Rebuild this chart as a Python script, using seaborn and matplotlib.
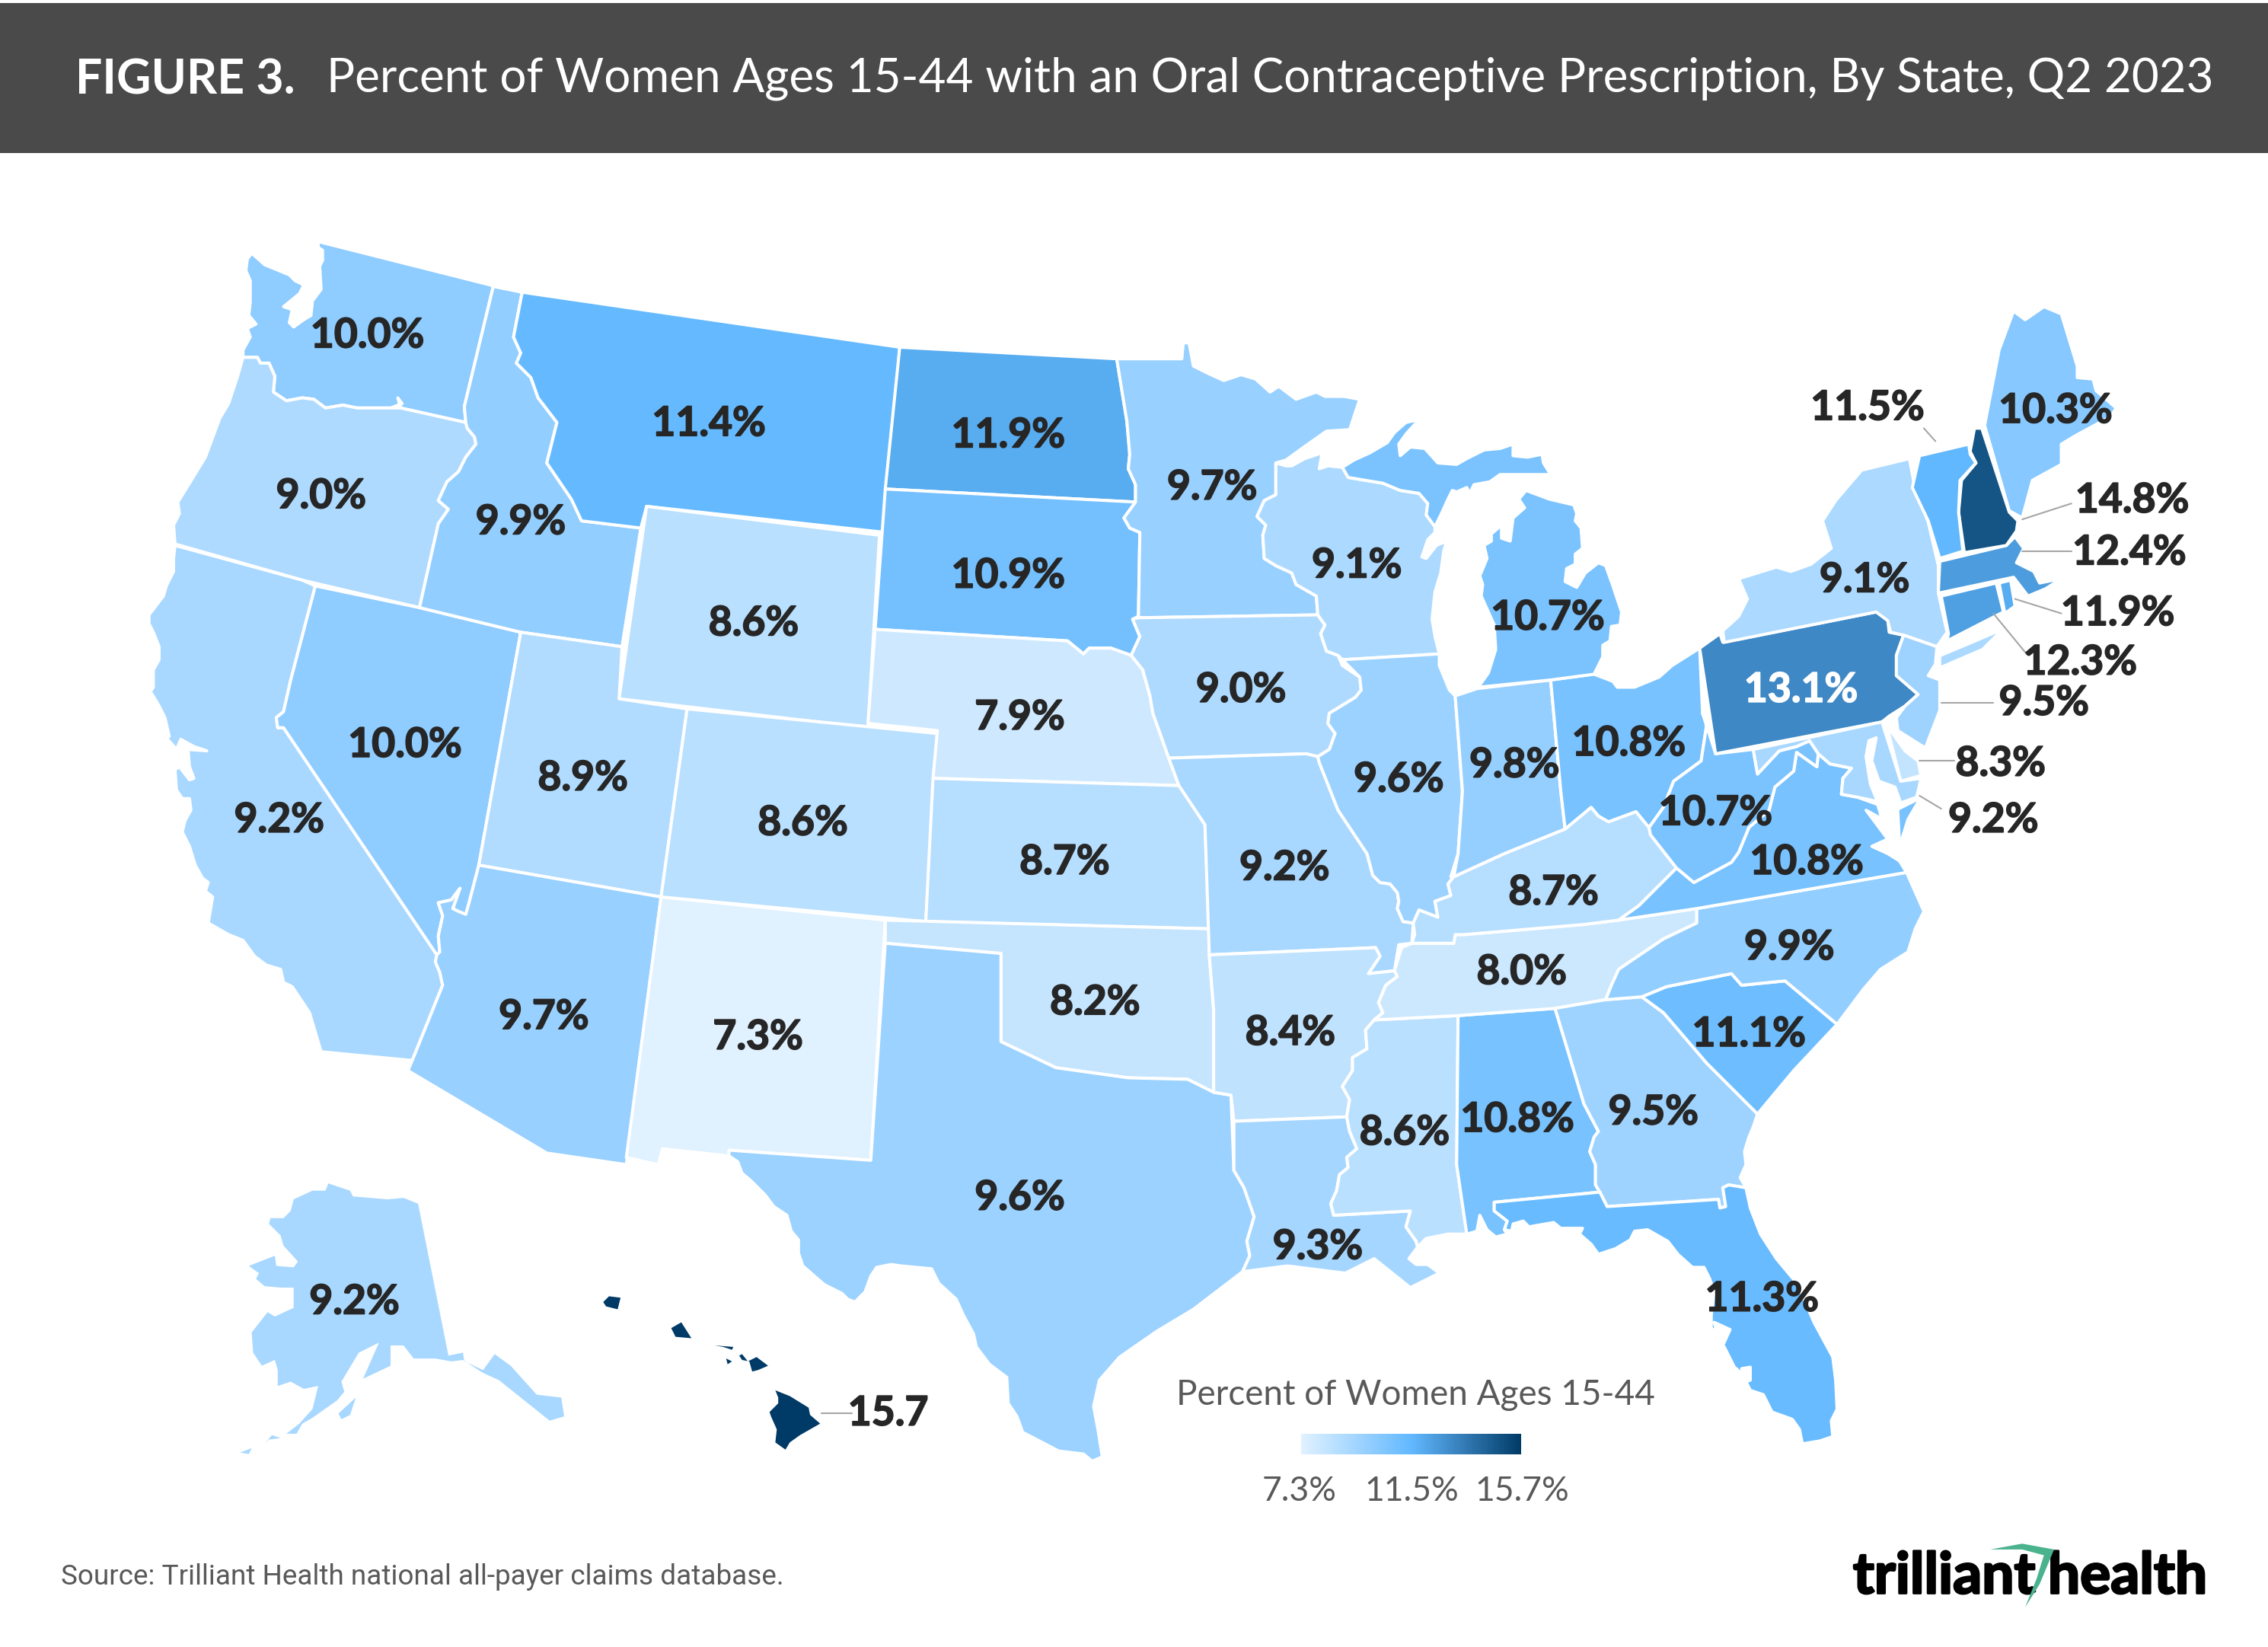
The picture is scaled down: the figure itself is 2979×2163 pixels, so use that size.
import numpy as np
import pandas as pd
import matplotlib.pyplot as plt
import matplotlib.patheffects as pe
import seaborn as sns
from matplotlib.colors import Normalize
from matplotlib.patches import Polygon, Rectangle

# =====================================================
# data
# =====================================================
states = ["WA", "OR", "CA", "NV", "ID", "MT", "WY", "UT", "AZ", "NM", "CO", "ND", "SD", "NE", "KS", "OK", "TX",
          "MN", "IA", "MO", "AR", "LA", "WI", "IL", "MS", "AL", "TN", "KY", "IN", "OH", "MI", "GA", "FL", "SC",
          "NC", "VA", "WV", "PA", "NY", "NJ", "DE", "MD", "CT", "RI", "MA", "NH", "VT", "ME", "AK", "HI"]
pct = [10.0, 9.0, 9.2, 10.0, 9.9, 11.4, 8.6, 8.9, 9.7, 7.3, 8.6, 11.9, 10.9, 7.9, 8.7, 8.2, 9.6,
       9.7, 9.0, 9.2, 8.4, 9.3, 9.1, 9.6, 8.6, 10.8, 8.0, 8.7, 9.8, 10.8, 10.7, 9.5, 11.3, 11.1,
       9.9, 10.8, 10.7, 13.1, 9.1, 9.5, 8.3, 9.2, 12.3, 11.9, 12.4, 14.8, 11.5, 10.3, 9.2, 15.7]

scale_ticks = [7.3, 11.5, 15.7]
scale_colors = ["#E0F1FF", "#62B8FF", "#003A66"]

# state outlines, in picture units (1568 wide)
shapes = {
    "WA": [[(174, 175), (183, 183), (200, 190), (204, 194), (210, 197), (207, 203), (196, 212), (202, 214), (200, 223),
            (203, 226), (210, 221), (215, 218), (216, 208), (222, 200), (221, 184), (223, 180), (223, 173), (220, 171),
            (220, 167), (339, 197), (341, 198), (321, 281), (322, 292), (277, 282), (275, 275), (278, 279), (270, 282),
            (247, 282), (237, 280), (225, 282), (217, 276), (209, 275), (198, 277), (189, 271), (190, 260), (186, 251),
            (180, 251), (178, 247), (168, 247), (168, 242), (173, 233), (171, 227), (177, 224), (172, 218), (173, 209),
            (173, 194), (170, 187), (171, 179)]],
    "OR": [[(168, 247), (178, 247), (180, 251), (186, 251), (190, 260), (189, 271), (198, 277), (209, 275), (217, 276),
            (225, 282), (237, 280), (247, 282), (270, 282), (277, 282), (322, 292), (323, 296), (328, 302), (329, 307),
            (322, 316), (317, 326), (309, 333), (303, 346), (310, 352), (303, 362), (290, 420), (209, 401), (121, 376),
            (120, 363), (124, 355), (123, 347), (131, 334), (142, 316), (152, 289), (158, 279), (164, 261)]],
    "CA": [[(121, 377), (209, 401), (218, 405), (201, 470), (196, 492), (191, 496), (192, 503), (196, 503), (302, 660),
            (301, 665), (304, 672), (306, 681), (285, 733), (222, 727), (214, 700), (202, 682), (196, 679), (194, 670),
            (184, 667), (176, 661), (168, 650), (158, 646), (144, 638), (147, 620), (142, 616), (144, 610), (140, 607),
            (135, 598), (131, 585), (126, 575), (128, 567), (132, 560), (131, 552), (126, 552), (122, 546), (121, 532),
            (124, 530), (131, 539), (134, 538), (131, 530), (130, 518), (143, 519), (134, 516), (125, 511), (122, 518),
            (115, 510), (117, 509), (114, 496), (110, 488), (104, 478), (106, 475), (106, 463), (110, 456), (110, 447),
            (106, 437), (103, 431), (103, 425), (113, 412), (115, 405), (120, 395), (120, 386)]],
    "NV": [[(218, 405), (290, 420), (360, 437), (331, 598), (324, 625), (322, 632), (317, 630), (313, 628), (318, 614),
            (312, 622), (303, 624), (306, 633), (303, 647), (304, 658), (302, 660), (196, 503), (192, 503), (191, 496),
            (196, 492), (201, 470)]],
    "ID": [[(341, 198), (361, 202), (355, 233), (360, 244), (357, 251), (367, 261), (372, 275), (385, 292), (378, 320),
            (395, 345), (402, 360), (443, 365), (430, 447), (360, 437), (290, 420), (303, 362), (310, 352), (303, 346),
            (309, 333), (317, 326), (322, 316), (329, 307), (328, 302), (323, 296), (322, 292), (321, 281)]],
    "MT": [[(361, 202), (622, 240), (612, 368), (447, 350), (443, 365), (402, 360), (395, 345), (378, 320), (385, 292),
            (372, 275), (367, 261), (357, 251), (360, 244), (355, 233)]],
    "WY": [[(447, 350), (608, 370), (600, 503), (428, 483)]],
    "UT": [[(360, 437), (430, 447), (428, 483), (475, 490), (457, 620), (331, 598)]],
    "AZ": [[(331, 598), (457, 620), (433, 805), (378, 797), (282, 740), (285, 733), (306, 681), (304, 672), (301, 665),
            (302, 660), (304, 658), (303, 647), (306, 633), (303, 624), (312, 622), (318, 614), (313, 628), (317, 630),
            (322, 632), (324, 625)]],
    "NM": [[(457, 620), (612, 636), (602, 802), (504, 795), (504, 799), (458, 794), (455, 805), (433, 800)]],
    "CO": [[(475, 490), (648, 507), (640, 637), (457, 620)]],
    "ND": [[(622, 240), (772, 248), (779, 291), (781, 314), (780, 324), (785, 335), (785, 347), (612, 338)]],
    "SD": [[(612, 338), (785, 347), (777, 358), (781, 365), (788, 368), (787, 426), (783, 428), (788, 440), (782, 453),
            (768, 448), (753, 448), (749, 452), (738, 443), (605, 435)]],
    "NE": [[(605, 435), (738, 443), (749, 452), (753, 448), (768, 448), (782, 453), (790, 463), (795, 481), (797, 493),
            (808, 524), (815, 543), (645, 538), (648, 505), (600, 500)]],
    "KS": [[(645, 538), (815, 543), (833, 570), (836, 642), (640, 637)]],
    "OK": [[(612, 636), (836, 642), (836, 660), (839, 698), (839, 755), (821, 746), (780, 745), (730, 738), (692, 720),
            (692, 659), (612, 652)]],
    "TX": [[(612, 652), (692, 659), (692, 720), (730, 738), (780, 745), (821, 746), (839, 755), (851, 757), (853, 809),
            (860, 821), (867, 841), (862, 858), (864, 868), (859, 879), (825, 905), (800, 920), (774, 938), (760, 954),
            (756, 972), (759, 988), (762, 1007), (755, 1010), (749, 1005), (732, 1003), (707, 990), (703, 979),
            (697, 970), (696, 952), (684, 943), (675, 931), (673, 922), (666, 909), (661, 898), (649, 887), (644, 877),
            (623, 875), (616, 874), (606, 876), (602, 882), (598, 893), (591, 900), (586, 898), (582, 894), (570, 888),
            (563, 882), (555, 875), (552, 866), (552, 857), (547, 851), (544, 840), (535, 834), (529, 826), (519, 816),
            (513, 811), (510, 803), (504, 799), (504, 795), (602, 802)]],
    "MN": [[(772, 248), (817, 248), (818, 237), (822, 237), (825, 253), (835, 258), (846, 263), (858, 259), (868, 262),
            (878, 271), (884, 267), (896, 276), (910, 271), (916, 274), (929, 274), (940, 276), (933, 297), (917, 298),
            (900, 310), (889, 318), (882, 320), (882, 342), (874, 346), (869, 357), (875, 363), (873, 370), (874, 386),
            (882, 391), (893, 396), (896, 404), (910, 412), (911, 425), (787, 427), (788, 368), (781, 365), (777, 358),
            (785, 347), (785, 335), (780, 324), (781, 314), (779, 291)]],
    "IA": [[(787, 427), (911, 425), (916, 432), (913, 438), (917, 450), (925, 453), (928, 460), (940, 468), (941, 477),
            (937, 482), (919, 493), (918, 500), (923, 507), (919, 518), (911, 523), (903, 521), (808, 524), (797, 493),
            (795, 481), (790, 463), (782, 453), (788, 440), (783, 428)]],
    "MO": [[(808, 524), (903, 521), (911, 523), (912, 527), (925, 560), (945, 590), (949, 605), (954, 610), (961, 611),
            (966, 617), (967, 623), (966, 628), (970, 637), (977, 638), (976, 652), (967, 653), (964, 671), (946, 673),
            (954, 661), (951, 655), (836, 660), (833, 570), (815, 543)]],
    "AR": [[(836, 660), (951, 655), (954, 661), (946, 673), (964, 671), (966, 675), (958, 681), (953, 693), (956, 700),
            (950, 705), (944, 712), (945, 725), (935, 731), (935, 740), (928, 751), (933, 760), (931, 772), (853, 775),
            (851, 757), (839, 755), (839, 698)]],
    "LA": [[(853, 775), (931, 772), (933, 782), (938, 794), (931, 800), (932, 807), (926, 812), (924, 823), (920, 832),
            (922, 840), (975, 837), (972, 848), (979, 858), (980, 862), (974, 870), (979, 874), (987, 874), (995, 880),
            (975, 890), (950, 870), (930, 880), (890, 875), (859, 879), (864, 868), (862, 858), (867, 841), (860, 821),
            (853, 809)]],
    "WI": [[(928, 323), (932, 330), (956, 334), (968, 339), (981, 341), (987, 348), (986, 356), (992, 364), (992, 368),
            (987, 373), (983, 385), (986, 386), (993, 377), (1000, 374), (998, 381), (996, 396), (992, 409), (990, 428),
            (992, 440), (995, 452), (928, 456), (925, 453), (917, 450), (913, 438), (916, 432), (911, 425), (910, 412),
            (896, 404), (893, 396), (882, 391), (874, 386), (873, 370), (875, 363), (869, 357), (874, 346), (882, 342),
            (882, 320), (889, 322), (893, 322), (902, 317), (914, 313), (912, 324), (918, 322)]],
    "IL": [[(928, 456), (995, 452), (995, 460), (1002, 477), (1006, 481), (1011, 547), (1008, 590), (1003, 606),
            (1005, 606), (1001, 611), (1003, 619), (992, 623), (994, 634), (981, 629), (977, 638), (970, 637), (966, 628),
            (967, 623), (966, 617), (961, 611), (954, 610), (949, 605), (945, 590), (925, 560), (912, 527), (911, 523),
            (919, 518), (923, 507), (918, 500), (919, 493), (937, 482), (941, 477), (940, 468)]],
    "IN": [[(1006, 481), (1021, 476), (1072, 470), (1079, 547), (1082, 573), (1040, 590), (1005, 606), (1008, 590),
            (1011, 547)]],
    "KY": [[(1005, 606), (1040, 590), (1082, 573), (1100, 558), (1105, 564), (1112, 568), (1131, 561), (1140, 572),
            (1141, 577), (1159, 600), (1133, 626), (1119, 636), (1095, 639), (1012, 646), (1006, 646), (1005, 652),
            (976, 652), (978, 646), (977, 638), (981, 629), (994, 634), (992, 623), (1003, 619), (1001, 611)]],
    "TN": [[(969, 655), (976, 652), (1005, 652), (1006, 646), (1012, 646), (1095, 639), (1119, 636), (1173, 628),
            (1173, 638), (1150, 649), (1119, 670), (1114, 681), (1110, 691), (1075, 697), (1008, 702), (950, 705),
            (956, 700), (953, 693), (958, 681), (966, 675), (964, 671)]],
    "MS": [[(950, 705), (1008, 702), (1007, 805), (1014, 853), (1001, 853), (986, 856), (980, 862), (979, 858), (972, 848),
            (975, 837), (922, 840), (920, 832), (924, 823), (926, 812), (932, 807), (931, 800), (938, 794), (933, 782),
            (931, 772), (933, 760), (928, 751), (935, 740), (935, 731), (945, 725), (944, 712)]],
    "AL": [[(1008, 702), (1075, 697), (1095, 763), (1105, 782), (1102, 786), (1099, 796), (1103, 805), (1103, 819),
            (1106, 824), (1033, 831), (1033, 837), (1042, 844), (1040, 850), (1042, 853), (1034, 855), (1028, 850),
            (1023, 840), (1021, 851), (1014, 853), (1007, 805)]],
    "GA": [[(1075, 697), (1110, 691), (1135, 689), (1150, 700), (1180, 735), (1215, 770), (1212, 779), (1209, 786),
            (1206, 796), (1207, 805), (1203, 814), (1207, 821), (1195, 819), (1191, 821), (1193, 834), (1189, 835),
            (1188, 829), (1111, 834), (1106, 824), (1103, 819), (1103, 805), (1099, 796), (1102, 786), (1105, 782),
            (1095, 763)]],
    "FL": [[(1033, 831), (1106, 824), (1111, 834), (1188, 829), (1189, 835), (1193, 834), (1191, 821), (1195, 819),
            (1207, 821), (1210, 835), (1217, 853), (1228, 870), (1243, 888), (1254, 914), (1267, 938), (1269, 954),
            (1270, 974), (1266, 982), (1267, 993), (1258, 996), (1246, 998), (1244, 988), (1239, 981), (1225, 976),
            (1219, 964), (1210, 961), (1207, 955), (1210, 954), (1210, 945), (1204, 946), (1206, 951), (1199, 945),
            (1192, 931), (1191, 930), (1196, 919), (1185, 914), (1187, 921), (1183, 918), (1183, 909), (1185, 893),
            (1182, 884), (1178, 876), (1170, 876), (1160, 867), (1153, 858), (1139, 850), (1130, 851), (1127, 857),
            (1117, 863), (1105, 867), (1100, 860), (1092, 853), (1094, 849), (1086, 849), (1079, 849), (1074, 845),
            (1057, 848), (1053, 844), (1046, 846), (1045, 851), (1040, 850), (1042, 844), (1033, 837)]],
    "SC": [[(1135, 689), (1152, 682), (1197, 673), (1204, 681), (1234, 678), (1270, 708), (1240, 740), (1215, 770),
            (1180, 735), (1150, 700)]],
    "NC": [[(1110, 691), (1114, 681), (1119, 670), (1150, 649), (1173, 638), (1173, 628), (1318, 603), (1330, 630),
            (1324, 642), (1319, 658), (1300, 670), (1288, 684), (1270, 708), (1234, 678), (1204, 681), (1197, 673),
            (1152, 682), (1135, 689)]],
    "VA": [[(1119, 636), (1133, 626), (1159, 600), (1171, 610), (1197, 596), (1202, 589), (1209, 572), (1223, 560),
            (1227, 544), (1240, 533), (1242, 520), (1256, 530), (1257, 521), (1265, 528), (1280, 531), (1274, 538),
            (1273, 549), (1284, 551), (1298, 556), (1301, 566), (1290, 560), (1305, 580), (1294, 585), (1305, 590),
            (1313, 595), (1318, 603), (1173, 628)],
           [(1325, 554), (1318, 566), (1314, 579), (1313, 560)]],
    "WV": [[(1177, 493), (1186, 521), (1212, 518), (1215, 535), (1230, 519), (1242, 516), (1251, 512), (1257, 521),
            (1256, 530), (1242, 520), (1240, 533), (1227, 544), (1223, 560), (1209, 572), (1202, 589), (1197, 596),
            (1171, 610), (1159, 600), (1141, 577), (1140, 572), (1150, 558), (1157, 540), (1176, 526), (1180, 500)]],
    "OH": [[(1072, 470), (1102, 466), (1115, 471), (1118, 475), (1130, 475), (1147, 468), (1156, 460), (1175, 448),
            (1177, 493), (1180, 500), (1176, 526), (1157, 540), (1150, 558), (1140, 572), (1131, 561), (1112, 568),
            (1105, 564), (1100, 558), (1082, 573), (1079, 547)]],
    "MI": [[(1022, 475), (1029, 465), (1034, 449), (1033, 432), (1024, 412), (1025, 404), (1023, 398), (1028, 386),
            (1026, 377), (1031, 374), (1031, 369), (1038, 363), (1038, 372), (1044, 374), (1046, 358), (1054, 351),
            (1050, 345), (1055, 339), (1071, 345), (1088, 349), (1090, 355), (1089, 360), (1093, 365), (1094, 379),
            (1089, 383), (1089, 390), (1083, 393), (1082, 402), (1090, 406), (1096, 396), (1105, 389), (1110, 391),
            (1115, 405), (1121, 423), (1120, 432), (1114, 433), (1113, 443), (1108, 446), (1108, 454), (1102, 466),
            (1072, 470)],
           [(928, 323), (936, 318), (947, 313), (959, 306), (964, 299), (972, 292), (981, 290), (972, 300), (967, 307),
            (968, 315), (975, 309), (985, 310), (994, 320), (1007, 321), (1014, 317), (1026, 311), (1037, 310), (1046, 307),
            (1046, 315), (1056, 316), (1066, 314), (1067, 320), (1072, 328), (1055, 328), (1037, 328), (1030, 333),
            (1019, 335), (1016, 341), (1014, 337), (1007, 340), (1004, 339), (1001, 345), (996, 356), (992, 364),
            (986, 356), (987, 348), (981, 341), (968, 339), (956, 334), (932, 330)]],
    "PA": [[(1175, 448), (1189, 438), (1191, 444), (1297, 423), (1305, 428), (1306, 437), (1316, 439), (1311, 453),
            (1311, 467), (1326, 480), (1317, 488), (1306, 495), (1301, 499), (1186, 521)]],
    "NY": [[(1191, 436), (1202, 426), (1208, 414), (1202, 400), (1228, 392), (1238, 395), (1252, 390), (1266, 379),
            (1260, 360), (1269, 346), (1287, 325), (1320, 317), (1323, 333), (1333, 361), (1340, 391), (1340, 410),
            (1346, 437), (1339, 447), (1316, 439), (1307, 437), (1305, 429), (1297, 423), (1192, 444)],
           [(1342, 454), (1380, 438), (1370, 448), (1342, 460)]],
    "NJ": [[(1316, 439), (1339, 447), (1338, 459), (1333, 467), (1341, 470), (1341, 491), (1331, 517), (1312, 505),
            (1311, 496), (1317, 488), (1326, 480), (1311, 467), (1311, 453)]],
    "DE": [[(1304, 500), (1314, 540), (1328, 536), (1326, 526), (1317, 519), (1307, 505)]],
    "MD": [[(1212, 518), (1301, 499), (1314, 540), (1328, 538), (1325, 551), (1314, 555), (1310, 544), (1299, 540),
            (1294, 526), (1297, 510), (1292, 512), (1290, 523), (1293, 542), (1298, 554), (1284, 551), (1273, 549),
            (1274, 538), (1280, 531), (1265, 528), (1257, 521), (1251, 512), (1242, 516), (1230, 519), (1215, 535)]],
    "CT": [[(1342, 412), (1380, 403), (1385, 423), (1346, 443), (1347, 438)]],
    "RI": [[(1382, 403), (1390, 401), (1393, 419), (1386, 424)]],
    "MA": [[(1341, 388), (1387, 377), (1393, 371), (1399, 379), (1394, 389), (1406, 395), (1410, 403), (1425, 400),
            (1414, 407), (1402, 412), (1392, 399), (1340, 410)]],
    "NH": [[(1365, 296), (1370, 296), (1389, 354), (1395, 360), (1394, 367), (1387, 377), (1358, 382), (1354, 354),
            (1356, 332), (1366, 320), (1362, 312)]],
    "VT": [[(1327, 315), (1361, 307), (1362, 314), (1366, 320), (1355, 332), (1354, 354), (1357, 381), (1341, 386),
            (1333, 360), (1322, 337)]],
    "ME": [[(1372, 294), (1382, 242), (1392, 215), (1400, 221), (1413, 212), (1425, 217), (1436, 253), (1436, 261),
            (1447, 262), (1449, 270), (1463, 282), (1459, 288), (1435, 301), (1425, 307), (1425, 321), (1405, 332),
            (1398, 358), (1389, 353)]],
    "AK": [[(227, 818), (242, 823), (244, 827), (268, 829), (279, 828), (289, 832), (310, 937), (320, 935), (321, 941),
            (334, 947), (342, 936), (353, 944), (371, 964), (388, 966), (390, 979), (380, 982), (345, 954), (334, 949),
            (320, 940), (312, 941), (301, 939), (286, 939), (279, 930), (270, 930), (270, 944), (251, 953), (262, 928),
            (248, 935), (236, 955), (238, 962), (233, 968), (216, 980), (209, 984), (205, 991), (198, 991), (207, 984),
            (216, 974), (220, 958), (210, 960), (201, 955), (192, 958), (192, 947), (190, 940), (181, 944), (175, 935),
            (174, 921), (185, 907), (190, 910), (203, 904), (203, 890), (194, 890), (183, 889), (177, 884), (179, 880),
            (172, 875), (190, 868), (191, 875), (203, 876), (206, 872), (196, 861), (194, 854), (186, 846), (187, 842),
            (196, 842), (201, 837), (203, 829), (216, 823), (225, 823)],
           [(234, 977), (246, 966), (242, 978), (236, 981)],
           [(166, 1004), (174, 1001), (172, 1005)],
           [(183, 998), (188, 992), (194, 994), (186, 995)]],
    "HI": [[(536, 961), (546, 965), (559, 973), (560, 978), (567, 984), (560, 988), (553, 992), (546, 997), (543, 1002),
            (536, 997), (537, 988), (533, 979), (532, 976), (538, 970), (538, 966)],
           [(511, 937), (513, 936), (517, 941), (523, 938), (531, 944), (524, 947), (520, 948), (518, 941), (513, 940)],
           [(471, 914), (478, 925), (467, 924), (464, 918)],
           [(421, 896), (429, 897), (427, 905), (419, 903), (417, 900)],
           [(494, 930), (507, 931), (506, 933), (500, 931)],
           [(502, 939), (506, 941), (503, 943)]],
}

label_pos = {
    "WA": (254, 231), "OR": (222, 342), "CA": (193, 566), "NV": (280, 514), "ID": (360, 360), "MT": (490, 292),
    "WY": (521, 430), "UT": (403, 537), "AZ": (376, 702), "NM": (524, 716), "CO": (555, 568), "ND": (697, 300),
    "SD": (697, 397), "NE": (705, 495), "KS": (736, 595), "OK": (757, 692), "TX": (705, 827), "MN": (838, 336),
    "IA": (858, 476), "MO": (888, 599), "AR": (892, 713), "LA": (911, 861), "WI": (938, 390), "IL": (967, 538),
    "MS": (971, 782), "AL": (1049, 773), "TN": (1052, 671), "KY": (1074, 616), "IN": (1047, 528), "OH": (1126, 513),
    "MI": (1070, 426), "GA": (1143, 768), "FL": (1218, 897), "SC": (1209, 714), "NC": (1237, 654), "VA": (1249, 595),
    "WV": (1186, 561), "PA": (1245, 476), "NY": (1289, 400), "NJ": (1413, 485), "DE": (1383, 527), "MD": (1378, 566),
    "CT": (1438, 457), "RI": (1464, 423), "MA": (1472, 381), "NH": (1474, 345), "VT": (1291, 281), "ME": (1421, 283),
    "AK": (245, 899), "HI": (614, 976),
}

leaders = {
    "VT": [(1330, 296), (1338, 305)], "NH": [(1432, 348), (1398, 359)], "MA": [(1432, 381), (1398, 381)],
    "RI": [(1425, 424), (1393, 414)], "CT": [(1401, 452), (1378, 424)], "NJ": [(1378, 486), (1342, 486)],
    "DE": [(1351, 526), (1327, 526)], "MD": [(1342, 559), (1327, 550)], "HI": [(568, 977), (589, 977)],
}

swoosh = [(1376, 1071), (1398, 1067), (1420, 1071), (1410, 1095), (1400, 1111), (1408, 1091), (1413, 1075), (1398, 1071)]

no_stroke = {"AK", "HI"}
no_stroke_parts = {("VA", 1), ("NY", 1)}

# =====================================================
# figure
# =====================================================
sns.set_theme(style="white")
plt.rcParams['font.family'] = ['Lato', 'DejaVu Sans']

W, H = 2979 / 1.9, 2163 / 1.9
fig = plt.figure(figsize=(29.79, 21.63), dpi=100, facecolor="white")
ax = fig.add_axes([0, 0, 1, 1])
ax.set_xlim(0, W)
ax.set_ylim(H, 0)
ax.axis('off')

df = pd.DataFrame({"state": states, "pct": pct})
cmap = sns.blend_palette(scale_colors, n_colors=256, as_cmap=True)
norm = Normalize(min(scale_ticks), max(scale_ticks))

for _, row in df.iterrows():
    for i, part in enumerate(shapes[row.state]):
        bare = row.state in no_stroke or (row.state, i) in no_stroke_parts
        ax.add_patch(Polygon(part, closed=True, facecolor=cmap(norm(row.pct)), edgecolor="none" if bare else "white",
                             linewidth=0 if bare else 2.9, joinstyle="round", zorder=2))

# labels
for _, row in df.iterrows():
    x, y = label_pos[row.state]
    txt = f"{row.pct:.1f}" if row.state == "HI" else f"{row.pct:.1f}%"
    col = "white" if row.state == "PA" else "#262626"
    ax.text(x, y + 1, txt, ha="center", va="center", fontsize=38.5, fontweight="bold", color=col, zorder=4,
            path_effects=[pe.withStroke(linewidth=1.2, foreground=col)])

for pts in leaders.values():
    ax.plot(*zip(*pts), color="#a6a6a6", lw=1.5, zorder=3)

# header
ax.add_patch(Rectangle((0, 2), W, 104, facecolor="#4A4A4A", edgecolor="none", zorder=5))
ax.text(52, 55.5, "FIGURE 3.", ha="left", va="center", color="white", fontsize=45, fontweight="bold", zorder=6)
ax.text(226, 54.5, "Percent of Women Ages 15-44 with an Oral Contraceptive Prescription, By State, Q2 2023",
        ha="left", va="center", color="white", fontsize=44.6, zorder=6)

# colour scale
ax.text(978.5, 964, "Percent of Women Ages 15-44", ha="center", va="center", color="#595959", fontsize=33)
ax_leg = fig.add_axes([899.7 / W, 1 - 1005.2 / H, 152 / W, 14.2 / H])
sns.heatmap(np.linspace(min(scale_ticks), max(scale_ticks), 256)[None, :], cmap=cmap, vmin=min(scale_ticks),
            vmax=max(scale_ticks), cbar=False, xticklabels=False, yticklabels=False, ax=ax_leg)
for tick, xc in zip(scale_ticks, [898, 976, 1052]):
    ax.text(xc, 1031, f"{tick}%", ha="center", va="center", color="#595959", fontsize=32)

# source + logo
ax.text(42, 1090, "Source: Trilliant Health national all-payer claims database.", ha="left", va="center",
        color="#595959", fontsize=26.6, family=["Roboto", "DejaVu Sans"])
logo_fx = [pe.withStroke(linewidth=2, foreground="black")]
ax.text(1281, 1090, "trilliant", ha="left", va="center", color="black", fontsize=54, fontweight="bold",
        path_effects=logo_fx)
ax.text(1526, 1090, "health", ha="right", va="center", color="black", fontsize=54, fontweight="bold",
        path_effects=logo_fx)
ax.add_patch(Polygon(swoosh, closed=True, facecolor="#4AB28D", edgecolor="none", zorder=4))

plt.savefig("out.png", dpi=100, facecolor="white")
